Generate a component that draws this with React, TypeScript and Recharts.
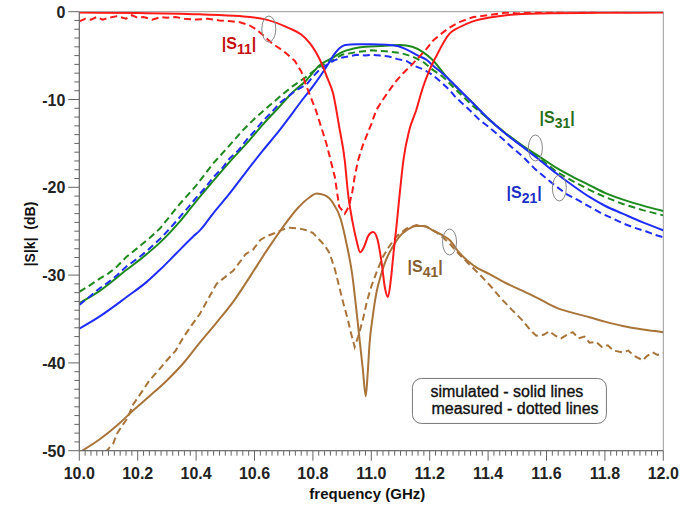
import React from "react";
import {
  LineChart,
  Line,
  XAxis,
  YAxis,
  ReferenceArea,
  ReferenceDot,
} from "recharts";

type Pt = [number, number];

// |S11| simulated / measured
const s11Sim: Pt[] = [
  [10.0, -0.1], [10.2, -0.15], [10.41, -0.3], [10.55, -0.5], [10.64, -0.9],
  [10.72, -1.9], [10.76, -2.6], [10.79, -3.6], [10.81, -4.6], [10.835, -6.3], [10.85, -7.6],
  [10.869, -9.3], [10.89, -13.1], [10.909, -16.9], [10.92, -20.6], [10.935, -23.8],
  [10.949, -26.0], [10.962, -27.4], [10.975, -26.8], [10.99, -25.5], [11.006, -25.1],
  [11.02, -25.8], [11.035, -28.5], [11.047, -31.5], [11.057, -32.5], [11.067, -30.5],
  [11.077, -27.2], [11.086, -24.5], [11.098, -20.5], [11.11, -16.9], [11.13, -13.5],
  [11.154, -11.2], [11.175, -8.8], [11.2, -6.6], [11.222, -5.1], [11.268, -2.5], [11.3, -1.8],
  [11.348, -1.1], [11.4, -0.7], [11.462, -0.4], [11.576, -0.2], [11.8, -0.12], [12.0, -0.1],
];
const s11Meas: Pt[] = [
  [10.0, -1.1], [10.02, -0.8], [10.04, -0.9], [10.06, -0.6], [10.08, -0.9], [10.1, -0.7],
  [10.13, -0.5], [10.16, -0.8], [10.18, -0.4], [10.2, -0.7], [10.22, -0.6], [10.25, -0.9],
  [10.28, -0.6], [10.3, -0.7], [10.33, -0.6], [10.36, -0.8], [10.4, -0.9], [10.44, -0.8],
  [10.48, -1.0], [10.52, -1.1], [10.55, -1.2], [10.58, -1.5], [10.61, -2.1], [10.64, -3.0],
  [10.66, -3.6], [10.7, -4.5], [10.738, -5.6], [10.76, -6.8], [10.778, -8.5], [10.81, -11.2],
  [10.846, -15.0], [10.875, -18.8], [10.89, -22.2], [10.909, -23.0], [10.918, -22.5],
  [10.926, -21.8], [10.935, -20.5], [10.943, -18.8], [10.955, -16.9], [10.97, -15.3],
  [10.983, -14.2], [11.0, -12.8], [11.017, -11.2], [11.04, -10.0], [11.063, -8.9],
  [11.085, -7.9], [11.109, -7.0], [11.14, -6.0], [11.165, -5.1], [11.19, -4.2],
  [11.211, -3.3], [11.24, -2.5], [11.268, -1.8], [11.3, -1.2], [11.35, -0.6], [11.4, -0.4],
  [11.462, -0.1], [11.5, -0.2], [11.55, 0.0], [11.6, -0.1], [11.69, 0.15], [11.75, 0.05],
  [11.8, 0.2], [11.85, 0.1], [11.92, 0.3], [11.95, 0.4], [11.975, 0.6], [12.0, 0.2],
];

// |S21|
const s21Sim: Pt[] = [
  [10.0, -36.1], [10.07, -34.7], [10.162, -32.5], [10.23, -30.8], [10.276, -29.4],
  [10.33, -27.6], [10.39, -25.6], [10.413, -24.9], [10.46, -22.9], [10.515, -20.7],
  [10.57, -18.3], [10.629, -15.8], [10.686, -13.5], [10.72, -12.0], [10.76, -10.2],
  [10.8, -8.5], [10.846, -6.3], [10.87, -5.0], [10.89, -4.2], [10.91, -3.8], [10.95, -3.7],
  [11.0, -3.7], [11.05, -3.75], [11.09, -3.9], [11.12, -4.3], [11.16, -5.0], [11.19, -5.5],
  [11.21, -6.1], [11.25, -7.2], [11.29, -8.5], [11.35, -10.5], [11.405, -12.3],
  [11.46, -13.9], [11.519, -15.4], [11.58, -17.0], [11.633, -18.4], [11.69, -19.8],
  [11.747, -21.1], [11.8, -22.1], [11.861, -23.0], [11.93, -24.0], [12.0, -24.9],
];
const s21Meas: Pt[] = [
  [10.0, -33.4], [10.03, -32.6], [10.07, -31.5], [10.1, -30.8], [10.13, -30.0],
  [10.162, -29.0], [10.2, -28.1], [10.23, -27.3], [10.276, -25.9], [10.31, -24.7],
  [10.344, -23.4], [10.37, -22.4], [10.4, -21.2], [10.43, -20.1], [10.458, -18.9],
  [10.49, -17.8], [10.515, -16.7], [10.545, -15.8], [10.573, -14.6], [10.6, -13.6],
  [10.63, -12.4], [10.66, -11.4], [10.686, -10.4], [10.71, -9.8], [10.74, -9.0],
  [10.778, -8.3], [10.8, -7.4], [10.823, -6.6], [10.85, -6.0], [10.87, -5.6], [10.89, -5.3],
  [10.92, -5.1], [10.95, -4.9], [10.98, -5.0], [11.0, -4.9], [11.03, -5.0], [11.06, -5.1],
  [11.09, -5.4], [11.12, -5.6], [11.15, -6.2], [11.18, -6.6], [11.21, -7.2], [11.245, -8.2],
  [11.27, -9.0], [11.29, -9.8], [11.33, -11.0], [11.37, -12.3], [11.405, -13.2],
  [11.44, -14.2], [11.48, -15.4], [11.519, -16.5], [11.56, -17.9], [11.6, -19.0],
  [11.633, -19.9], [11.67, -20.8], [11.71, -21.5], [11.747, -22.2], [11.79, -23.0],
  [11.83, -23.6], [11.861, -24.1], [11.9, -24.6], [11.94, -25.0], [11.97, -25.4], [12.0, -25.7],
];

// |S31|
const s31Sim: Pt[] = [
  [10.0, -33.2], [10.07, -31.8], [10.162, -29.4], [10.22, -27.9], [10.276, -26.3],
  [10.344, -23.9], [10.4, -21.6], [10.458, -19.3], [10.515, -17.1], [10.573, -15.0],
  [10.63, -12.8], [10.686, -10.8], [10.73, -9.2], [10.778, -7.8], [10.823, -6.1],
  [10.87, -5.2], [10.9, -4.6], [10.94, -4.2], [10.98, -4.0], [11.03, -3.9], [11.1, -3.8],
  [11.14, -4.0], [11.177, -4.6], [11.21, -5.5], [11.257, -7.4], [11.3, -8.9],
  [11.348, -10.4], [11.4, -12.2], [11.462, -13.9], [11.52, -15.3], [11.576, -16.5],
  [11.63, -17.7], [11.69, -18.8], [11.75, -19.8], [11.804, -20.7], [11.9, -21.8], [12.0, -22.7],
];
const s31Meas: Pt[] = [
  [10.0, -31.9], [10.03, -31.3], [10.07, -30.4], [10.1, -29.8], [10.13, -29.0],
  [10.162, -27.9], [10.2, -26.9], [10.24, -25.8], [10.276, -24.7], [10.31, -23.3],
  [10.344, -21.9], [10.4, -19.8], [10.458, -17.3], [10.515, -15.2], [10.56, -13.5],
  [10.6, -12.2], [10.63, -11.3], [10.686, -9.7], [10.73, -8.5], [10.778, -7.4],
  [10.82, -6.3], [10.87, -5.5], [10.9, -4.9], [10.95, -4.6], [11.0, -4.4], [11.05, -4.5],
  [11.1, -4.7], [11.14, -5.1], [11.177, -5.7], [11.21, -6.6], [11.245, -7.4], [11.29, -8.9],
  [11.35, -10.8], [11.405, -12.3], [11.46, -13.9], [11.52, -15.4], [11.58, -16.8],
  [11.633, -18.2], [11.69, -19.3], [11.747, -20.3], [11.8, -21.1], [11.861, -21.9],
  [11.93, -22.6], [12.0, -23.2],
];

// |S41|
const s41Sim: Pt[] = [
  [10.0, -50.2], [10.07, -48.7], [10.13, -47.1], [10.185, -45.4], [10.24, -43.8],
  [10.3, -42.0], [10.36, -39.9], [10.41, -37.8], [10.47, -35.4], [10.53, -32.9],
  [10.584, -30.2], [10.64, -27.3], [10.698, -24.5], [10.75, -22.3], [10.79, -21.1],
  [10.812, -20.7], [10.84, -20.9], [10.869, -21.8], [10.895, -23.6], [10.915, -26.4],
  [10.935, -30.0], [10.949, -34.0], [10.962, -38.0], [10.971, -40.7], [10.981, -43.8],
  [10.988, -41.0], [10.994, -37.8], [11.005, -34.7], [11.017, -32.1], [11.033, -30.0],
  [11.05, -28.3], [11.075, -26.7], [11.097, -25.6], [11.125, -24.8], [11.154, -24.4],
  [11.18, -24.4], [11.21, -24.9], [11.24, -25.4], [11.268, -26.0], [11.3, -27.4],
  [11.35, -28.9], [11.405, -29.9], [11.46, -30.9], [11.519, -31.8], [11.58, -32.8],
  [11.633, -33.7], [11.69, -34.3], [11.747, -34.8], [11.8, -35.3], [11.861, -35.8],
  [11.93, -36.2], [12.0, -36.5],
];
const s41Meas: Pt[] = [
  [10.06, -52.5], [10.094, -50.0], [10.105, -49.6], [10.116, -49.2], [10.13, -48.0],
  [10.15, -47.0], [10.165, -46.3], [10.185, -44.7], [10.21, -43.5], [10.24, -42.0],
  [10.27, -40.9], [10.3, -39.7], [10.33, -38.6], [10.356, -37.1], [10.385, -35.7],
  [10.413, -34.4], [10.44, -32.8], [10.47, -31.0], [10.5, -30.2], [10.527, -29.5],
  [10.55, -28.5], [10.57, -27.6], [10.595, -27.1], [10.62, -26.0], [10.64, -25.6],
  [10.67, -25.2], [10.698, -24.8], [10.72, -24.6], [10.755, -24.7], [10.778, -24.9],
  [10.8, -25.2], [10.823, -26.0], [10.84, -26.6], [10.857, -27.5], [10.875, -29.3],
  [10.89, -31.3], [10.905, -33.3], [10.92, -35.1], [10.932, -36.8], [10.943, -38.2],
  [10.955, -37.0], [10.971, -35.1], [10.985, -33.0], [11.0, -31.3], [11.02, -29.5],
  [11.04, -27.9], [11.06, -26.8], [11.086, -25.6], [11.12, -24.7], [11.154, -24.3],
  [11.19, -24.5], [11.222, -25.1], [11.245, -25.7], [11.268, -26.4], [11.3, -27.6],
  [11.33, -28.6], [11.37, -29.9], [11.41, -31.3], [11.44, -32.5], [11.48, -33.9],
  [11.519, -35.2], [11.545, -36.3], [11.565, -36.9], [11.59, -36.8], [11.61, -36.4],
  [11.63, -36.9], [11.65, -37.2], [11.67, -36.8], [11.69, -36.5], [11.71, -37.2],
  [11.73, -37.0], [11.747, -37.7], [11.77, -37.6], [11.79, -38.2], [11.81, -38.0],
  [11.83, -38.6], [11.86, -38.8], [11.88, -38.6], [11.9, -39.2], [11.93, -39.7],
  [11.945, -39.2], [11.963, -38.8], [11.98, -39.1], [12.0, -38.9],
];

const xMajor = [10.0, 10.2, 10.4, 10.6, 10.8, 11.0, 11.2, 11.4, 11.6, 11.8, 12.0];
const yMajor = [0, -10, -20, -30, -40, -50];

// minor ticks: every 0.02 GHz and every 1 dB
const xTicks = Array.from({ length: 101 }, (_, i) => Math.round((10 + i * 0.02) * 100) / 100);
const yTicks = Array.from({ length: 51 }, (_, i) => -i);

const FONT = "'Liberation Sans', Arial, sans-serif";
const AXIS = "#666";

const RED = "#ff1a1a";
const BLUE = "#1f2dff";
const GREEN = "#1e8a1e";
const BROWN = "#a8743a";

const pts = (a: Pt[]) => a.map(([f, v]) => ({ f, v }));

const XTick = ({ x, y, payload }: any) => {
  const v = payload.value as number;
  const major = xMajor.some((m) => Math.abs(m - v) < 1e-6);
  return (
    <g>
      <line x1={x} x2={x} y1={y} y2={y + (major ? 10 : 5)} stroke={AXIS} />
      {major && (
        <text x={x} y={y + 28} textAnchor="middle" fontSize={16} fontWeight="bold" fontFamily={FONT} fill="#222">
          {v.toFixed(1)}
        </text>
      )}
    </g>
  );
};

const YTick = ({ x, y, payload }: any) => {
  const v = payload.value as number;
  const major = yMajor.includes(v);
  return (
    <g>
      <line x1={x - (major ? 11 : 5)} x2={x} y1={y} y2={y} stroke={AXIS} />
      {major && (
        <text x={x - 14} y={y + 6} textAnchor="end" fontSize={16} fontWeight="bold" fontFamily={FONT} fill="#222">
          {v}
        </text>
      )}
    </g>
  );
};

const sLabel = (idx: string, color: string) => (p: any) => (
  <text x={p.cx} y={p.cy} fill={color} fontSize={16} fontWeight="bold" fontFamily={FONT}>
    |S
    <tspan fontSize={14} dy={5}>{idx}</tspan>
    <tspan dy={-5}>|</tspan>
  </text>
);

const ring = (p: any) => (
  <ellipse cx={p.cx} cy={p.cy} rx={7} ry={13} fill="none" stroke="#888" strokeWidth={1} />
);

const noteBox = (p: any) => (
  <g fontFamily={FONT} fontSize={16} fill="#111" stroke="#111" strokeWidth={0.35}>
    <rect x={p.cx - 97} y={p.cy - 23} width={194} height={45} rx={9} fill="#fff" stroke="#777" strokeWidth={1} />
    <text x={p.cx - 79} y={p.cy - 4.5}>simulated - solid lines</text>
    <text x={p.cx - 78} y={p.cy + 13}>measured - dotted lines</text>
  </g>
);

export default function App() {
  const solid = { dot: false, isAnimationActive: false, strokeWidth: 2, type: "monotone" as const, dataKey: "v" };
  const dashed = { dot: false, isAnimationActive: false, strokeWidth: 2, type: "linear" as const, dataKey: "v", strokeDasharray: "7 4" };

  return (
    <div style={{ position: "absolute", left: 0, top: 0, width: 681, height: 508, background: "#fff" }}>
      <LineChart width={681} height={508} margin={{ top: 11.7, right: 17.7, bottom: 0, left: 0 }}>
        <ReferenceArea x1={10} x2={12} y1={-50} y2={0} fill="none" stroke="#999" />
        <XAxis
          dataKey="f"
          type="number"
          domain={[10, 12]}
          ticks={xTicks}
          interval={0}
          allowDataOverflow
          height={57.3}
          tickSize={0}
          tickMargin={0}
          tick={<XTick />}
          stroke={AXIS}
          label={(props: any) => {
            const vb = props.viewBox;
            return (
              <text x={vb.x + vb.width / 2 - 4} y={vb.y + 48} textAnchor="middle" fontSize={15} fontWeight="bold" fontFamily={FONT} fill="#111">
                frequency (GHz)
              </text>
            );
          }}
        />
        <YAxis
          type="number"
          domain={[-50, 0]}
          ticks={yTicks}
          interval={0}
          allowDataOverflow
          width={79.3}
          tickSize={0}
          tickMargin={0}
          tick={<YTick />}
          stroke={AXIS}
          label={() => {
            const cx = 35;
            const cy = 234;
            return (
              <text x={cx} y={cy} transform={`rotate(-90, ${cx}, ${cy})`} textAnchor="middle" fontSize={14} fontWeight="bold" fontFamily={FONT} fill="#111" style={{ whiteSpace: "pre" }}>
                {"|S|k|  (dB)"}
              </text>
            );
          }}
        />
        <Line {...solid} data={pts(s41Sim)} stroke={BROWN} />
        <Line {...dashed} data={pts(s41Meas)} stroke={BROWN} />
        <Line {...solid} data={pts(s31Sim)} stroke={GREEN} />
        <Line {...dashed} data={pts(s31Meas)} stroke={GREEN} />
        <Line {...solid} data={pts(s21Sim)} stroke={BLUE} />
        <Line {...dashed} data={pts(s21Meas)} stroke={BLUE} />
        <Line {...solid} data={pts(s11Sim)} stroke={RED} />
        <Line {...dashed} data={pts(s11Meas)} stroke={RED} />

        <ReferenceDot x={10.649} y={-1.97} shape={ring} />
        <ReferenceDot x={11.562} y={-15.52} shape={ring} />
        <ReferenceDot x={11.644} y={-20.08} shape={ring} />
        <ReferenceDot x={11.268} y={-26.23} shape={ring} />

        <ReferenceDot x={10.488} y={-4.25} shape={sLabel("11", "#c41010")} />
        <ReferenceDot x={11.576} y={-12.73} shape={sLabel("31", "#2a6e1c")} />
        <ReferenceDot x={11.463} y={-21.22} shape={sLabel("21", "#1b2ec4")} />
        <ReferenceDot x={11.124} y={-29.65} shape={sLabel("41", "#87602f")} />

        <ReferenceDot x={11.473} y={-44.39} shape={noteBox} />
      </LineChart>
    </div>
  );
}
